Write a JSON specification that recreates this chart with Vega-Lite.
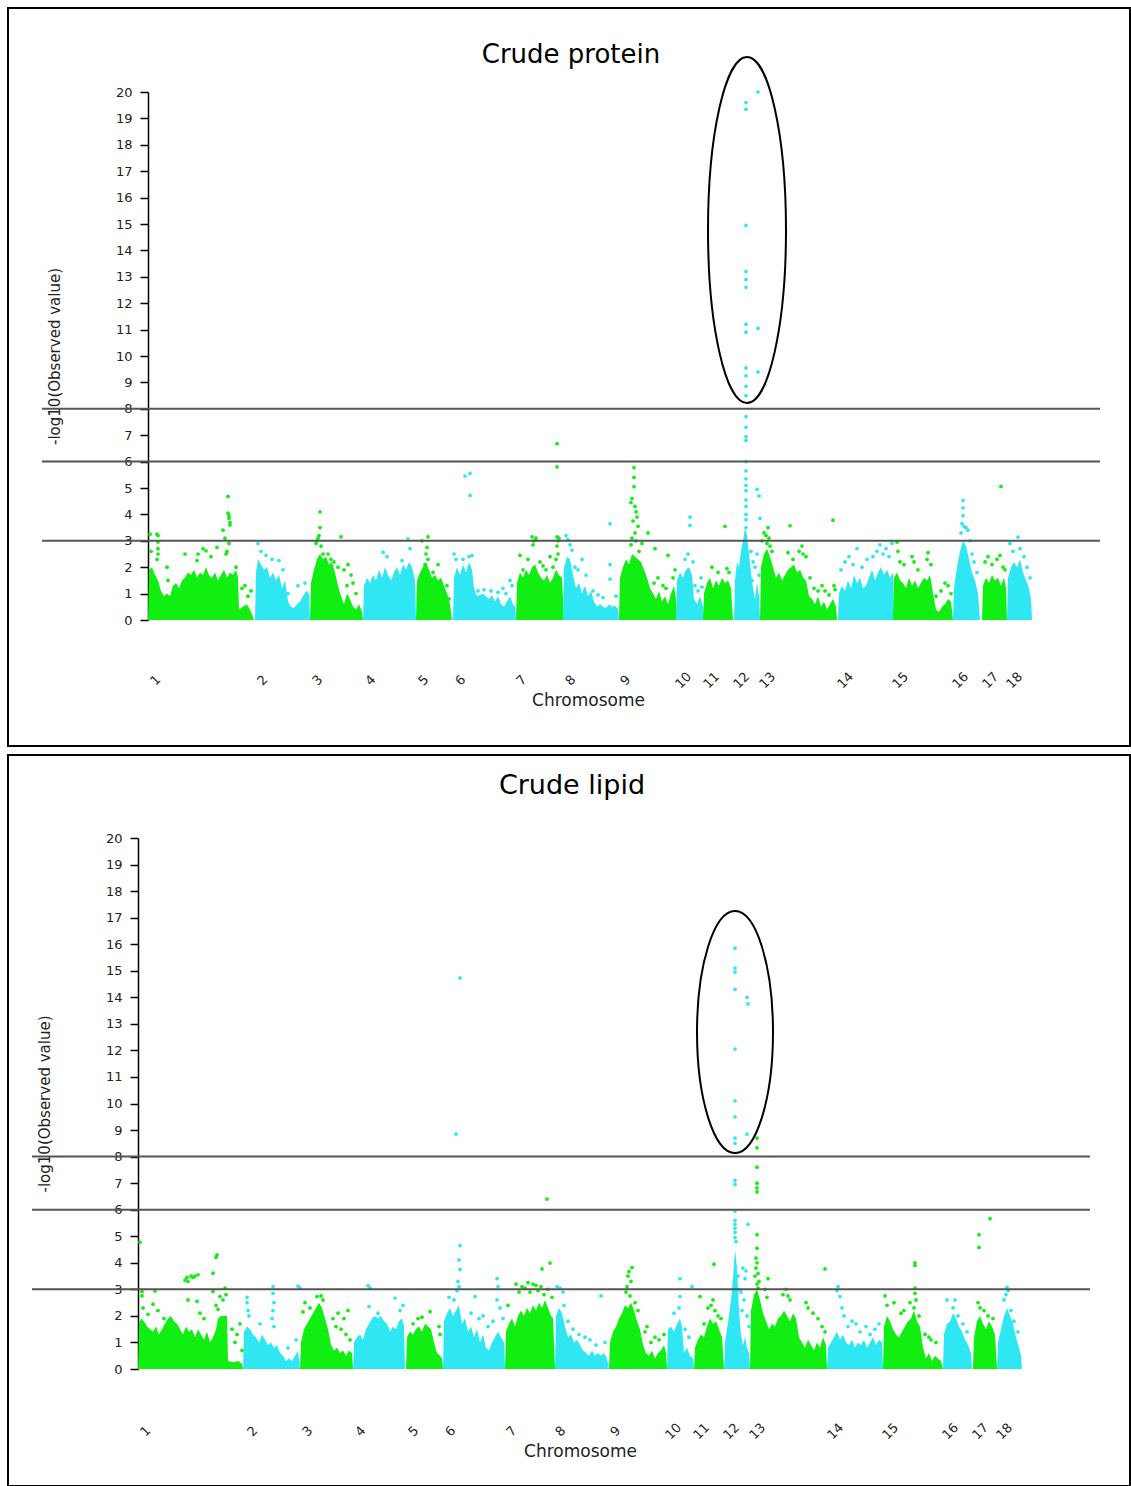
{
"$schema": "https://vega.github.io/schema/vega-lite/v6.json",
"padding": {"left": 7, "top": 7, "right": 0, "bottom": 0},
"background": "white",
"spacing": 6,
"config": {"view": {"stroke": null}, "font": "DejaVu Sans", "axis": {"grid": false}},
"datasets": {
"topBulk": [
{"c":1,"x":0,"y":0},{"c":1,"x":1,"y":1.9},{"c":1,"x":4,"y":2.0},{"c":1,"x":7,"y":1.7},{"c":1,"x":10,"y":1.5},{"c":1,"x":13,"y":1.1},{"c":1,"x":16,"y":0.9},{"c":1,"x":19,"y":1.0},{"c":1,"x":22,"y":0.9},{"c":1,"x":25,"y":1.3},{"c":1,"x":28,"y":1.4},{"c":1,"x":31,"y":1.2},{"c":1,"x":34,"y":1.5},{"c":1,"x":37,"y":1.6},{"c":1,"x":40,"y":1.8},{"c":1,"x":43,"y":1.7},{"c":1,"x":46,"y":1.9},{"c":1,"x":49,"y":1.6},{"c":1,"x":52,"y":1.8},{"c":1,"x":55,"y":1.7},{"c":1,"x":58,"y":2.0},{"c":1,"x":61,"y":1.7},{"c":1,"x":64,"y":1.6},{"c":1,"x":67,"y":1.8},{"c":1,"x":70,"y":1.5},{"c":1,"x":73,"y":1.7},{"c":1,"x":76,"y":1.9},{"c":1,"x":79,"y":1.6},{"c":1,"x":82,"y":1.8},{"c":1,"x":85,"y":1.7},{"c":1,"x":88,"y":1.9},{"c":1,"x":90,"y":1.6},{"c":1,"x":91,"y":0.4},{"c":1,"x":95,"y":0.5},{"c":1,"x":99,"y":0.6},{"c":1,"x":103,"y":0.3},{"c":1,"x":106,"y":0},
{"c":2,"x":107,"y":0},{"c":2,"x":108,"y":1.8},{"c":2,"x":110,"y":2.3},{"c":2,"x":113,"y":2.1},{"c":2,"x":116,"y":1.9},{"c":2,"x":119,"y":2.0},{"c":2,"x":122,"y":1.6},{"c":2,"x":125,"y":1.8},{"c":2,"x":128,"y":1.5},{"c":2,"x":131,"y":1.7},{"c":2,"x":134,"y":1.2},{"c":2,"x":137,"y":1.5},{"c":2,"x":140,"y":0.7},{"c":2,"x":143,"y":0.5},{"c":2,"x":146,"y":0.45},{"c":2,"x":149,"y":0.6},{"c":2,"x":152,"y":0.7},{"c":2,"x":155,"y":0.9},{"c":2,"x":158,"y":1.1},{"c":2,"x":161,"y":1.0},{"c":2,"x":162,"y":0},
{"c":3,"x":162,"y":0},{"c":3,"x":163,"y":1.4},{"c":3,"x":166,"y":1.9},{"c":3,"x":169,"y":2.3},{"c":3,"x":172,"y":2.5},{"c":3,"x":175,"y":2.3},{"c":3,"x":178,"y":2.4},{"c":3,"x":181,"y":2.1},{"c":3,"x":184,"y":2.2},{"c":3,"x":187,"y":1.8},{"c":3,"x":190,"y":1.3},{"c":3,"x":193,"y":0.9},{"c":3,"x":196,"y":0.6},{"c":3,"x":199,"y":1.0},{"c":3,"x":202,"y":0.8},{"c":3,"x":205,"y":0.5},{"c":3,"x":208,"y":0.4},{"c":3,"x":211,"y":0.6},{"c":3,"x":214,"y":0.3},{"c":3,"x":215,"y":0},
{"c":4,"x":215,"y":0},{"c":4,"x":216,"y":1.3},{"c":4,"x":219,"y":1.6},{"c":4,"x":222,"y":1.4},{"c":4,"x":225,"y":1.7},{"c":4,"x":228,"y":1.5},{"c":4,"x":231,"y":1.9},{"c":4,"x":234,"y":1.6},{"c":4,"x":237,"y":2.0},{"c":4,"x":240,"y":1.7},{"c":4,"x":243,"y":1.5},{"c":4,"x":246,"y":1.8},{"c":4,"x":249,"y":2.0},{"c":4,"x":252,"y":1.7},{"c":4,"x":255,"y":2.1},{"c":4,"x":258,"y":1.9},{"c":4,"x":261,"y":2.2},{"c":4,"x":264,"y":2.0},{"c":4,"x":267,"y":1.5},{"c":4,"x":268,"y":0},
{"c":5,"x":268,"y":0},{"c":5,"x":269,"y":1.5},{"c":5,"x":272,"y":1.8},{"c":5,"x":275,"y":2.0},{"c":5,"x":278,"y":2.2},{"c":5,"x":281,"y":1.9},{"c":5,"x":284,"y":1.6},{"c":5,"x":287,"y":1.7},{"c":5,"x":290,"y":1.5},{"c":5,"x":293,"y":1.6},{"c":5,"x":296,"y":1.3},{"c":5,"x":299,"y":1.0},{"c":5,"x":302,"y":0.6},{"c":5,"x":304,"y":0},
{"c":6,"x":305,"y":0},{"c":6,"x":306,"y":1.6},{"c":6,"x":309,"y":2.0},{"c":6,"x":312,"y":1.7},{"c":6,"x":315,"y":2.1},{"c":6,"x":318,"y":1.8},{"c":6,"x":321,"y":2.2},{"c":6,"x":324,"y":1.9},{"c":6,"x":326,"y":1.2},{"c":6,"x":329,"y":0.9},{"c":6,"x":332,"y":0.95},{"c":6,"x":335,"y":1.0},{"c":6,"x":338,"y":0.9},{"c":6,"x":341,"y":0.8},{"c":6,"x":344,"y":0.95},{"c":6,"x":347,"y":0.7},{"c":6,"x":350,"y":0.9},{"c":6,"x":353,"y":0.6},{"c":6,"x":356,"y":0.5},{"c":6,"x":359,"y":0.7},{"c":6,"x":362,"y":0.9},{"c":6,"x":365,"y":0.6},{"c":6,"x":367,"y":0.5},{"c":6,"x":368,"y":0},
{"c":7,"x":368,"y":0},{"c":7,"x":369,"y":1.4},{"c":7,"x":372,"y":1.8},{"c":7,"x":375,"y":1.6},{"c":7,"x":378,"y":1.9},{"c":7,"x":381,"y":1.7},{"c":7,"x":384,"y":2.0},{"c":7,"x":387,"y":2.1},{"c":7,"x":390,"y":1.8},{"c":7,"x":393,"y":1.6},{"c":7,"x":396,"y":1.5},{"c":7,"x":399,"y":1.7},{"c":7,"x":402,"y":1.4},{"c":7,"x":405,"y":1.6},{"c":7,"x":408,"y":1.9},{"c":7,"x":411,"y":1.7},{"c":7,"x":414,"y":1.6},{"c":7,"x":416,"y":0},
{"c":8,"x":415,"y":0},{"c":8,"x":416,"y":2.0},{"c":8,"x":419,"y":2.4},{"c":8,"x":422,"y":2.3},{"c":8,"x":425,"y":1.7},{"c":8,"x":428,"y":1.2},{"c":8,"x":431,"y":1.4},{"c":8,"x":434,"y":1.0},{"c":8,"x":437,"y":1.3},{"c":8,"x":440,"y":0.9},{"c":8,"x":443,"y":1.1},{"c":8,"x":446,"y":0.7},{"c":8,"x":449,"y":0.5},{"c":8,"x":452,"y":0.6},{"c":8,"x":455,"y":0.5},{"c":8,"x":458,"y":0.45},{"c":8,"x":461,"y":0.6},{"c":8,"x":464,"y":0.5},{"c":8,"x":467,"y":0.55},{"c":8,"x":470,"y":0.4},{"c":8,"x":471,"y":0},
{"c":9,"x":471,"y":0},{"c":9,"x":472,"y":1.6},{"c":9,"x":475,"y":2.0},{"c":9,"x":478,"y":2.3},{"c":9,"x":481,"y":2.1},{"c":9,"x":484,"y":2.5},{"c":9,"x":487,"y":2.4},{"c":9,"x":490,"y":2.3},{"c":9,"x":493,"y":2.2},{"c":9,"x":496,"y":1.9},{"c":9,"x":499,"y":1.6},{"c":9,"x":502,"y":1.2},{"c":9,"x":505,"y":1.0},{"c":9,"x":508,"y":0.8},{"c":9,"x":511,"y":1.1},{"c":9,"x":514,"y":0.7},{"c":9,"x":517,"y":0.9},{"c":9,"x":520,"y":0.6},{"c":9,"x":523,"y":1.0},{"c":9,"x":526,"y":1.3},{"c":9,"x":528,"y":0.8},{"c":9,"x":529,"y":0},
{"c":10,"x":528,"y":0},{"c":10,"x":529,"y":1.5},{"c":10,"x":532,"y":1.8},{"c":10,"x":535,"y":1.6},{"c":10,"x":538,"y":1.9},{"c":10,"x":541,"y":2.0},{"c":10,"x":544,"y":1.7},{"c":10,"x":546,"y":0.8},{"c":10,"x":549,"y":0.6},{"c":10,"x":552,"y":0.9},{"c":10,"x":555,"y":0.5},{"c":10,"x":556,"y":0},
{"c":11,"x":555,"y":0},{"c":11,"x":556,"y":1.0},{"c":11,"x":559,"y":1.4},{"c":11,"x":562,"y":1.6},{"c":11,"x":565,"y":1.2},{"c":11,"x":568,"y":1.5},{"c":11,"x":571,"y":1.3},{"c":11,"x":574,"y":1.6},{"c":11,"x":577,"y":1.4},{"c":11,"x":580,"y":1.5},{"c":11,"x":583,"y":1.2},{"c":11,"x":585,"y":0},
{"c":12,"x":586,"y":0},{"c":12,"x":587,"y":1.5},{"c":12,"x":589,"y":2.2},{"c":12,"x":591,"y":2.0},{"c":12,"x":593,"y":2.6},{"c":12,"x":595,"y":3.0},{"c":12,"x":597,"y":3.5},{"c":12,"x":599,"y":3.2},{"c":12,"x":601,"y":2.5},{"c":12,"x":603,"y":1.8},{"c":12,"x":605,"y":1.2},{"c":12,"x":607,"y":0.8},{"c":12,"x":609,"y":1.4},{"c":12,"x":611,"y":0.9},{"c":12,"x":612,"y":0},
{"c":13,"x":612,"y":0},{"c":13,"x":613,"y":2.0},{"c":13,"x":616,"y":2.5},{"c":13,"x":619,"y":2.7},{"c":13,"x":622,"y":2.4},{"c":13,"x":625,"y":2.0},{"c":13,"x":628,"y":1.6},{"c":13,"x":631,"y":1.8},{"c":13,"x":634,"y":1.5},{"c":13,"x":637,"y":1.7},{"c":13,"x":640,"y":1.9},{"c":13,"x":643,"y":2.0},{"c":13,"x":646,"y":2.1},{"c":13,"x":649,"y":1.8},{"c":13,"x":652,"y":1.9},{"c":13,"x":655,"y":1.6},{"c":13,"x":658,"y":1.5},{"c":13,"x":661,"y":0.9},{"c":13,"x":664,"y":0.8},{"c":13,"x":667,"y":0.6},{"c":13,"x":670,"y":0.9},{"c":13,"x":673,"y":0.5},{"c":13,"x":676,"y":0.7},{"c":13,"x":679,"y":0.4},{"c":13,"x":682,"y":0.6},{"c":13,"x":685,"y":0.8},{"c":13,"x":688,"y":0.5},{"c":13,"x":689,"y":0},
{"c":14,"x":690,"y":0},{"c":14,"x":691,"y":1.0},{"c":14,"x":694,"y":1.3},{"c":14,"x":697,"y":1.1},{"c":14,"x":700,"y":1.5},{"c":14,"x":703,"y":1.2},{"c":14,"x":706,"y":1.7},{"c":14,"x":709,"y":1.4},{"c":14,"x":712,"y":1.6},{"c":14,"x":715,"y":1.2},{"c":14,"x":718,"y":1.3},{"c":14,"x":721,"y":1.6},{"c":14,"x":724,"y":1.9},{"c":14,"x":727,"y":1.5},{"c":14,"x":730,"y":1.8},{"c":14,"x":733,"y":2.0},{"c":14,"x":736,"y":1.7},{"c":14,"x":739,"y":1.9},{"c":14,"x":742,"y":1.6},{"c":14,"x":745,"y":1.8},{"c":14,"x":746,"y":0},
{"c":15,"x":745,"y":0},{"c":15,"x":746,"y":1.6},{"c":15,"x":749,"y":1.8},{"c":15,"x":752,"y":1.5},{"c":15,"x":755,"y":1.4},{"c":15,"x":758,"y":1.2},{"c":15,"x":761,"y":1.6},{"c":15,"x":764,"y":1.3},{"c":15,"x":767,"y":1.5},{"c":15,"x":770,"y":1.2},{"c":15,"x":773,"y":1.4},{"c":15,"x":776,"y":1.6},{"c":15,"x":779,"y":1.5},{"c":15,"x":782,"y":1.7},{"c":15,"x":785,"y":1.0},{"c":15,"x":788,"y":0.4},{"c":15,"x":791,"y":0.3},{"c":15,"x":794,"y":0.5},{"c":15,"x":797,"y":0.6},{"c":15,"x":800,"y":0.8},{"c":15,"x":803,"y":0.7},{"c":15,"x":805,"y":0},
{"c":16,"x":805,"y":0},{"c":16,"x":806,"y":1.2},{"c":16,"x":809,"y":2.0},{"c":16,"x":812,"y":2.6},{"c":16,"x":815,"y":3.0},{"c":16,"x":818,"y":2.8},{"c":16,"x":821,"y":2.3},{"c":16,"x":824,"y":1.8},{"c":16,"x":827,"y":1.5},{"c":16,"x":830,"y":1.0},{"c":16,"x":832,"y":0},
{"c":17,"x":834,"y":0},{"c":17,"x":835,"y":1.3},{"c":17,"x":838,"y":1.6},{"c":17,"x":841,"y":1.4},{"c":17,"x":844,"y":1.7},{"c":17,"x":847,"y":1.5},{"c":17,"x":850,"y":1.6},{"c":17,"x":853,"y":1.3},{"c":17,"x":856,"y":1.6},{"c":17,"x":858,"y":1.2},{"c":17,"x":859,"y":0},
{"c":18,"x":859,"y":0},{"c":18,"x":860,"y":1.6},{"c":18,"x":863,"y":2.0},{"c":18,"x":866,"y":2.2},{"c":18,"x":869,"y":2.0},{"c":18,"x":872,"y":2.3},{"c":18,"x":875,"y":1.8},{"c":18,"x":878,"y":1.5},{"c":18,"x":881,"y":1.2},{"c":18,"x":883,"y":0.8},{"c":18,"x":884,"y":0}
],
"topPts": [
{"c":1,"x":2,"y":3.25},{"c":1,"x":9,"y":3.25},{"c":1,"x":10,"y":3.2},{"c":1,"x":10,"y":2.95},{"c":1,"x":10,"y":2.7},{"c":1,"x":10,"y":2.5},{"c":1,"x":9,"y":2.3},{"c":1,"x":3,"y":2.6},{"c":1,"x":19,"y":2.0},{"c":1,"x":20,"y":1.5},{"c":1,"x":37,"y":2.5},{"c":1,"x":49,"y":2.25},{"c":1,"x":50,"y":2.5},{"c":1,"x":55,"y":2.7},{"c":1,"x":58,"y":2.62},{"c":1,"x":63,"y":2.4},{"c":1,"x":69,"y":2.75},{"c":1,"x":75,"y":3.4},{"c":1,"x":77,"y":3.1},{"c":1,"x":80,"y":4.68},{"c":1,"x":80,"y":4.05},{"c":1,"x":81,"y":3.95},{"c":1,"x":81,"y":3.85},{"c":1,"x":82,"y":3.7},{"c":1,"x":82,"y":3.6},{"c":1,"x":81,"y":2.9},{"c":1,"x":79,"y":2.6},{"c":1,"x":78,"y":2.5},{"c":1,"x":88,"y":2.0},{"c":1,"x":94,"y":1.2},{"c":1,"x":97,"y":1.3},{"c":1,"x":100,"y":0.9},{"c":1,"x":103,"y":1.1},
{"c":2,"x":110,"y":2.9},{"c":2,"x":113,"y":2.6},{"c":2,"x":118,"y":2.45},{"c":2,"x":124,"y":2.3},{"c":2,"x":131,"y":2.25},{"c":2,"x":135,"y":1.9},{"c":2,"x":140,"y":1.0},{"c":2,"x":150,"y":1.3},{"c":2,"x":157,"y":1.4},
{"c":3,"x":172,"y":4.1},{"c":3,"x":172,"y":3.5},{"c":3,"x":171,"y":3.2},{"c":3,"x":170,"y":3.1},{"c":3,"x":169,"y":3.0},{"c":3,"x":168,"y":2.9},{"c":3,"x":173,"y":2.8},{"c":3,"x":175,"y":2.5},{"c":3,"x":180,"y":2.5},{"c":3,"x":183,"y":2.3},{"c":3,"x":186,"y":2.2},{"c":3,"x":193,"y":3.15},{"c":3,"x":190,"y":2.0},{"c":3,"x":196,"y":1.9},{"c":3,"x":200,"y":2.1},{"c":3,"x":203,"y":1.7},{"c":3,"x":205,"y":1.4},{"c":3,"x":199,"y":1.3},{"c":3,"x":208,"y":1.0},
{"c":4,"x":235,"y":2.57},{"c":4,"x":239,"y":2.4},{"c":4,"x":254,"y":2.25},{"c":4,"x":260,"y":3.07},{"c":4,"x":262,"y":2.7},
{"c":5,"x":280,"y":3.15},{"c":5,"x":274,"y":3.0},{"c":5,"x":279,"y":2.75},{"c":5,"x":278,"y":2.5},{"c":5,"x":280,"y":2.3},{"c":5,"x":277,"y":2.1},{"c":5,"x":290,"y":2.1},{"c":5,"x":285,"y":1.8},{"c":5,"x":299,"y":1.3},{"c":5,"x":301,"y":0.8},
{"c":6,"x":317,"y":5.45},{"c":6,"x":322,"y":5.55},{"c":6,"x":322,"y":4.72},{"c":6,"x":306,"y":2.5},{"c":6,"x":308,"y":2.3},{"c":6,"x":315,"y":2.3},{"c":6,"x":321,"y":2.4},{"c":6,"x":324,"y":2.45},{"c":6,"x":330,"y":1.1},{"c":6,"x":336,"y":1.15},{"c":6,"x":343,"y":1.1},{"c":6,"x":350,"y":1.05},{"c":6,"x":358,"y":1.0},{"c":6,"x":364,"y":1.3},{"c":6,"x":362,"y":1.5},{"c":6,"x":355,"y":1.2},
{"c":7,"x":409,"y":6.68},{"c":7,"x":409,"y":5.8},{"c":7,"x":409,"y":3.15},{"c":7,"x":411,"y":3.1},{"c":7,"x":410,"y":3.0},{"c":7,"x":409,"y":2.8},{"c":7,"x":410,"y":2.5},{"c":7,"x":408,"y":2.3},{"c":7,"x":405,"y":2.0},{"c":7,"x":384,"y":3.15},{"c":7,"x":386,"y":3.0},{"c":7,"x":385,"y":2.85},{"c":7,"x":388,"y":3.1},{"c":7,"x":372,"y":2.45},{"c":7,"x":380,"y":2.3},{"c":7,"x":392,"y":2.2},{"c":7,"x":395,"y":2.05},{"c":7,"x":398,"y":1.9},{"c":7,"x":402,"y":2.4},{"c":7,"x":375,"y":1.9},
{"c":8,"x":418,"y":3.2},{"c":8,"x":420,"y":3.05},{"c":8,"x":422,"y":2.85},{"c":8,"x":424,"y":2.65},{"c":8,"x":427,"y":2.0},{"c":8,"x":430,"y":1.9},{"c":8,"x":434,"y":2.3},{"c":8,"x":438,"y":1.7},{"c":8,"x":445,"y":1.1},{"c":8,"x":450,"y":0.95},{"c":8,"x":455,"y":0.85},{"c":8,"x":462,"y":3.65},{"c":8,"x":462,"y":2.1},{"c":8,"x":462,"y":1.55},{"c":8,"x":468,"y":0.9},
{"c":9,"x":486,"y":5.77},{"c":9,"x":486,"y":5.4},{"c":9,"x":486,"y":5.05},{"c":9,"x":484,"y":4.6},{"c":9,"x":483,"y":4.45},{"c":9,"x":487,"y":4.3},{"c":9,"x":488,"y":4.1},{"c":9,"x":489,"y":3.9},{"c":9,"x":485,"y":3.75},{"c":9,"x":490,"y":3.55},{"c":9,"x":487,"y":3.3},{"c":9,"x":484,"y":3.1},{"c":9,"x":488,"y":3.0},{"c":9,"x":483,"y":2.85},{"c":9,"x":491,"y":2.6},{"c":9,"x":494,"y":2.9},{"c":9,"x":500,"y":3.3},{"c":9,"x":507,"y":2.7},{"c":9,"x":520,"y":2.45},{"c":9,"x":506,"y":1.4},{"c":9,"x":510,"y":1.6},{"c":9,"x":515,"y":1.3},{"c":9,"x":518,"y":1.2},{"c":9,"x":525,"y":1.6},{"c":9,"x":527,"y":1.9},
{"c":10,"x":542,"y":3.9},{"c":10,"x":542,"y":3.58},{"c":10,"x":537,"y":2.3},{"c":10,"x":540,"y":2.5},{"c":10,"x":545,"y":2.2},{"c":10,"x":547,"y":1.3},{"c":10,"x":550,"y":1.1},{"c":10,"x":553,"y":1.6},{"c":10,"x":554,"y":1.25},
{"c":11,"x":564,"y":2.0},{"c":11,"x":577,"y":3.55},{"c":11,"x":579,"y":1.95},{"c":11,"x":581,"y":1.8},{"c":11,"x":570,"y":1.8},
{"c":12,"x":598,"y":19.6},{"c":12,"x":598,"y":19.35},{"c":12,"x":598,"y":14.95},{"c":12,"x":598,"y":13.2},{"c":12,"x":598,"y":12.9},{"c":12,"x":598,"y":12.6},{"c":12,"x":598,"y":11.2},{"c":12,"x":598,"y":10.9},{"c":12,"x":598,"y":9.55},{"c":12,"x":598,"y":9.25},{"c":12,"x":598,"y":8.85},{"c":12,"x":598,"y":8.5},{"c":12,"x":598,"y":7.7},{"c":12,"x":598,"y":7.3},{"c":12,"x":598,"y":6.95},{"c":12,"x":598,"y":6.8},{"c":12,"x":598,"y":6.0},{"c":12,"x":598,"y":5.65},{"c":12,"x":598,"y":5.35},{"c":12,"x":598,"y":5.1},{"c":12,"x":598,"y":4.9},{"c":12,"x":598,"y":4.55},{"c":12,"x":598,"y":4.3},{"c":12,"x":598,"y":4.0},{"c":12,"x":598,"y":3.8},{"c":12,"x":598,"y":3.5},{"c":12,"x":610,"y":20.0},{"c":12,"x":610,"y":11.05},{"c":12,"x":610,"y":9.4},{"c":12,"x":609,"y":4.95},{"c":12,"x":611,"y":4.7},{"c":12,"x":612,"y":3.85},{"c":12,"x":603,"y":2.6},{"c":12,"x":605,"y":2.2},{"c":12,"x":607,"y":2.0},{"c":12,"x":609,"y":2.5},{"c":12,"x":611,"y":1.7},{"c":12,"x":604,"y":1.5},
{"c":13,"x":614,"y":3.0},{"c":13,"x":616,"y":3.3},{"c":13,"x":618,"y":3.2},{"c":13,"x":620,"y":3.5},{"c":13,"x":621,"y":3.1},{"c":13,"x":619,"y":2.9},{"c":13,"x":622,"y":2.8},{"c":13,"x":624,"y":2.6},{"c":13,"x":642,"y":3.57},{"c":13,"x":640,"y":2.55},{"c":13,"x":645,"y":2.3},{"c":13,"x":651,"y":2.6},{"c":13,"x":654,"y":2.8},{"c":13,"x":655,"y":2.5},{"c":13,"x":658,"y":2.4},{"c":13,"x":662,"y":1.6},{"c":13,"x":666,"y":1.2},{"c":13,"x":670,"y":1.1},{"c":13,"x":674,"y":1.3},{"c":13,"x":677,"y":1.1},{"c":13,"x":681,"y":0.95},{"c":13,"x":687,"y":1.15},{"c":13,"x":686,"y":1.3},{"c":13,"x":685,"y":3.78},
{"c":14,"x":693,"y":1.9},{"c":14,"x":697,"y":2.2},{"c":14,"x":701,"y":2.4},{"c":14,"x":705,"y":2.1},{"c":14,"x":709,"y":2.7},{"c":14,"x":714,"y":2.0},{"c":14,"x":719,"y":2.3},{"c":14,"x":725,"y":2.4},{"c":14,"x":729,"y":2.6},{"c":14,"x":732,"y":2.85},{"c":14,"x":735,"y":2.5},{"c":14,"x":738,"y":2.7},{"c":14,"x":741,"y":2.4},{"c":14,"x":744,"y":2.9},
{"c":15,"x":749,"y":2.95},{"c":15,"x":750,"y":2.6},{"c":15,"x":752,"y":2.2},{"c":15,"x":756,"y":2.1},{"c":15,"x":764,"y":2.4},{"c":15,"x":766,"y":2.2},{"c":15,"x":770,"y":1.9},{"c":15,"x":779,"y":2.3},{"c":15,"x":780,"y":2.55},{"c":15,"x":783,"y":2.1},{"c":15,"x":788,"y":0.9},{"c":15,"x":793,"y":1.1},{"c":15,"x":797,"y":1.4},{"c":15,"x":800,"y":1.3},{"c":15,"x":803,"y":1.0},
{"c":16,"x":815,"y":4.53},{"c":16,"x":815,"y":4.25},{"c":16,"x":815,"y":3.95},{"c":16,"x":814,"y":3.65},{"c":16,"x":816,"y":3.55},{"c":16,"x":818,"y":3.5},{"c":16,"x":820,"y":3.4},{"c":16,"x":813,"y":3.3},{"c":16,"x":822,"y":3.0},{"c":16,"x":824,"y":2.5},{"c":16,"x":826,"y":2.2},{"c":16,"x":829,"y":1.8},
{"c":17,"x":837,"y":2.2},{"c":17,"x":840,"y":2.4},{"c":17,"x":844,"y":2.1},{"c":17,"x":849,"y":2.3},{"c":17,"x":852,"y":2.45},{"c":17,"x":853,"y":5.06},{"c":17,"x":855,"y":2.0},{"c":17,"x":857,"y":1.9},
{"c":18,"x":862,"y":2.9},{"c":18,"x":865,"y":2.6},{"c":18,"x":870,"y":3.14},{"c":18,"x":872,"y":2.7},{"c":18,"x":876,"y":2.4},{"c":18,"x":879,"y":2.0},{"c":18,"x":882,"y":1.6}
],
"botBulk": [
{"c":1,"x":0,"y":0},{"c":1,"x":1,"y":1.7},{"c":1,"x":3,"y":1.9},{"c":1,"x":6,"y":1.8},{"c":1,"x":9,"y":1.6},{"c":1,"x":12,"y":1.5},{"c":1,"x":15,"y":1.4},{"c":1,"x":18,"y":1.6},{"c":1,"x":21,"y":1.3},{"c":1,"x":24,"y":1.5},{"c":1,"x":27,"y":1.7},{"c":1,"x":30,"y":1.9},{"c":1,"x":33,"y":2.0},{"c":1,"x":36,"y":1.8},{"c":1,"x":39,"y":1.7},{"c":1,"x":42,"y":1.5},{"c":1,"x":45,"y":1.3},{"c":1,"x":48,"y":1.6},{"c":1,"x":51,"y":1.4},{"c":1,"x":54,"y":1.5},{"c":1,"x":57,"y":1.2},{"c":1,"x":60,"y":1.5},{"c":1,"x":63,"y":1.3},{"c":1,"x":66,"y":1.1},{"c":1,"x":69,"y":1.4},{"c":1,"x":72,"y":1.0},{"c":1,"x":75,"y":1.2},{"c":1,"x":78,"y":1.5},{"c":1,"x":80,"y":1.9},{"c":1,"x":83,"y":2.0},{"c":1,"x":86,"y":2.0},{"c":1,"x":89,"y":2.0},{"c":1,"x":90,"y":0.3},{"c":1,"x":95,"y":0.25},{"c":1,"x":100,"y":0.3},{"c":1,"x":104,"y":0.2},{"c":1,"x":105,"y":0},
{"c":2,"x":105,"y":0},{"c":2,"x":106,"y":1.4},{"c":2,"x":109,"y":1.6},{"c":2,"x":112,"y":1.5},{"c":2,"x":115,"y":1.3},{"c":2,"x":118,"y":1.2},{"c":2,"x":121,"y":1.0},{"c":2,"x":124,"y":1.3},{"c":2,"x":127,"y":1.1},{"c":2,"x":130,"y":0.9},{"c":2,"x":133,"y":1.0},{"c":2,"x":136,"y":0.8},{"c":2,"x":139,"y":0.9},{"c":2,"x":142,"y":0.6},{"c":2,"x":145,"y":0.5},{"c":2,"x":148,"y":0.3},{"c":2,"x":151,"y":0.4},{"c":2,"x":154,"y":0.3},{"c":2,"x":157,"y":0.5},{"c":2,"x":160,"y":0.7},{"c":2,"x":162,"y":0},
{"c":3,"x":162,"y":0},{"c":3,"x":163,"y":1.0},{"c":3,"x":166,"y":1.5},{"c":3,"x":169,"y":1.7},{"c":3,"x":172,"y":1.9},{"c":3,"x":175,"y":2.1},{"c":3,"x":178,"y":2.3},{"c":3,"x":181,"y":2.5},{"c":3,"x":184,"y":2.3},{"c":3,"x":187,"y":1.9},{"c":3,"x":190,"y":1.5},{"c":3,"x":193,"y":0.9},{"c":3,"x":196,"y":0.7},{"c":3,"x":199,"y":0.8},{"c":3,"x":202,"y":0.6},{"c":3,"x":205,"y":0.7},{"c":3,"x":208,"y":0.5},{"c":3,"x":211,"y":0.7},{"c":3,"x":214,"y":0.6},{"c":3,"x":215,"y":0},
{"c":4,"x":215,"y":0},{"c":4,"x":216,"y":1.0},{"c":4,"x":219,"y":1.2},{"c":4,"x":222,"y":1.3},{"c":4,"x":225,"y":1.1},{"c":4,"x":228,"y":1.5},{"c":4,"x":231,"y":1.7},{"c":4,"x":234,"y":1.9},{"c":4,"x":237,"y":2.0},{"c":4,"x":240,"y":1.9},{"c":4,"x":243,"y":2.0},{"c":4,"x":246,"y":1.8},{"c":4,"x":249,"y":1.7},{"c":4,"x":252,"y":1.4},{"c":4,"x":255,"y":1.6},{"c":4,"x":258,"y":1.5},{"c":4,"x":261,"y":1.8},{"c":4,"x":264,"y":1.9},{"c":4,"x":266,"y":1.6},{"c":4,"x":267,"y":0},
{"c":5,"x":268,"y":0},{"c":5,"x":269,"y":1.2},{"c":5,"x":272,"y":1.4},{"c":5,"x":275,"y":1.3},{"c":5,"x":278,"y":1.5},{"c":5,"x":281,"y":1.6},{"c":5,"x":284,"y":1.4},{"c":5,"x":287,"y":1.7},{"c":5,"x":290,"y":1.6},{"c":5,"x":293,"y":1.5},{"c":5,"x":296,"y":1.0},{"c":5,"x":299,"y":0.6},{"c":5,"x":302,"y":0.5},{"c":5,"x":304,"y":0.4},{"c":5,"x":305,"y":0},
{"c":6,"x":305,"y":0},{"c":6,"x":306,"y":1.8},{"c":6,"x":309,"y":2.1},{"c":6,"x":312,"y":2.3},{"c":6,"x":315,"y":2.0},{"c":6,"x":318,"y":2.2},{"c":6,"x":321,"y":2.4},{"c":6,"x":324,"y":1.7},{"c":6,"x":327,"y":1.9},{"c":6,"x":330,"y":1.4},{"c":6,"x":333,"y":1.6},{"c":6,"x":336,"y":1.2},{"c":6,"x":339,"y":1.5},{"c":6,"x":342,"y":1.0},{"c":6,"x":345,"y":1.3},{"c":6,"x":348,"y":0.8},{"c":6,"x":351,"y":0.7},{"c":6,"x":354,"y":1.0},{"c":6,"x":357,"y":1.2},{"c":6,"x":360,"y":1.4},{"c":6,"x":363,"y":1.2},{"c":6,"x":366,"y":1.0},{"c":6,"x":367,"y":0},
{"c":7,"x":367,"y":0},{"c":7,"x":368,"y":1.4},{"c":7,"x":371,"y":1.7},{"c":7,"x":374,"y":1.9},{"c":7,"x":377,"y":1.6},{"c":7,"x":380,"y":2.0},{"c":7,"x":383,"y":2.2},{"c":7,"x":386,"y":2.0},{"c":7,"x":389,"y":2.3},{"c":7,"x":392,"y":2.1},{"c":7,"x":395,"y":2.4},{"c":7,"x":398,"y":2.2},{"c":7,"x":401,"y":2.5},{"c":7,"x":404,"y":2.3},{"c":7,"x":407,"y":2.6},{"c":7,"x":410,"y":2.3},{"c":7,"x":413,"y":2.0},{"c":7,"x":415,"y":1.9},{"c":7,"x":417,"y":0},
{"c":8,"x":417,"y":0},{"c":8,"x":418,"y":2.0},{"c":8,"x":421,"y":2.3},{"c":8,"x":424,"y":2.1},{"c":8,"x":427,"y":1.6},{"c":8,"x":430,"y":1.2},{"c":8,"x":433,"y":1.3},{"c":8,"x":436,"y":1.0},{"c":8,"x":439,"y":1.1},{"c":8,"x":442,"y":0.9},{"c":8,"x":445,"y":0.7},{"c":8,"x":448,"y":0.6},{"c":8,"x":451,"y":0.5},{"c":8,"x":454,"y":0.7},{"c":8,"x":457,"y":0.5},{"c":8,"x":460,"y":0.6},{"c":8,"x":463,"y":0.5},{"c":8,"x":466,"y":0.6},{"c":8,"x":469,"y":0.4},{"c":8,"x":471,"y":0},
{"c":9,"x":471,"y":0},{"c":9,"x":472,"y":1.0},{"c":9,"x":475,"y":1.4},{"c":9,"x":478,"y":1.6},{"c":9,"x":481,"y":1.9},{"c":9,"x":484,"y":2.1},{"c":9,"x":487,"y":2.4},{"c":9,"x":490,"y":2.3},{"c":9,"x":493,"y":2.5},{"c":9,"x":496,"y":2.2},{"c":9,"x":499,"y":1.8},{"c":9,"x":502,"y":1.5},{"c":9,"x":505,"y":0.9},{"c":9,"x":508,"y":0.6},{"c":9,"x":511,"y":0.5},{"c":9,"x":514,"y":0.7},{"c":9,"x":517,"y":0.4},{"c":9,"x":520,"y":0.6},{"c":9,"x":523,"y":0.7},{"c":9,"x":526,"y":0.9},{"c":9,"x":528,"y":0.6},{"c":9,"x":529,"y":0},
{"c":10,"x":529,"y":0},{"c":10,"x":530,"y":1.5},{"c":10,"x":533,"y":1.6},{"c":10,"x":536,"y":1.4},{"c":10,"x":539,"y":1.7},{"c":10,"x":542,"y":1.9},{"c":10,"x":544,"y":1.6},{"c":10,"x":546,"y":0.6},{"c":10,"x":549,"y":0.8},{"c":10,"x":552,"y":0.5},{"c":10,"x":555,"y":0.4},{"c":10,"x":556,"y":0},
{"c":11,"x":556,"y":0},{"c":11,"x":557,"y":0.8},{"c":11,"x":560,"y":1.1},{"c":11,"x":563,"y":1.3},{"c":11,"x":566,"y":1.2},{"c":11,"x":569,"y":1.6},{"c":11,"x":572,"y":1.9},{"c":11,"x":575,"y":1.7},{"c":11,"x":578,"y":1.8},{"c":11,"x":581,"y":1.5},{"c":11,"x":584,"y":1.2},{"c":11,"x":586,"y":0},
{"c":12,"x":586,"y":0},{"c":12,"x":587,"y":1.0},{"c":12,"x":589,"y":1.5},{"c":12,"x":591,"y":2.0},{"c":12,"x":593,"y":2.6},{"c":12,"x":595,"y":3.4},{"c":12,"x":597,"y":4.5},{"c":12,"x":599,"y":3.8},{"c":12,"x":601,"y":2.2},{"c":12,"x":603,"y":1.3},{"c":12,"x":605,"y":0.9},{"c":12,"x":607,"y":1.2},{"c":12,"x":609,"y":0.8},{"c":12,"x":611,"y":0.6},{"c":12,"x":612,"y":0},
{"c":13,"x":612,"y":0},{"c":13,"x":613,"y":2.2},{"c":13,"x":616,"y":2.8},{"c":13,"x":619,"y":3.0},{"c":13,"x":622,"y":2.6},{"c":13,"x":625,"y":2.1},{"c":13,"x":628,"y":1.8},{"c":13,"x":631,"y":1.5},{"c":13,"x":634,"y":1.7},{"c":13,"x":637,"y":1.6},{"c":13,"x":640,"y":1.9},{"c":13,"x":643,"y":2.0},{"c":13,"x":646,"y":2.2},{"c":13,"x":649,"y":2.0},{"c":13,"x":652,"y":1.8},{"c":13,"x":655,"y":2.1},{"c":13,"x":658,"y":1.9},{"c":13,"x":661,"y":1.2},{"c":13,"x":664,"y":1.0},{"c":13,"x":667,"y":0.8},{"c":13,"x":670,"y":1.1},{"c":13,"x":673,"y":0.9},{"c":13,"x":676,"y":0.7},{"c":13,"x":679,"y":1.0},{"c":13,"x":682,"y":0.8},{"c":13,"x":685,"y":1.2},{"c":13,"x":688,"y":0.9},{"c":13,"x":689,"y":0},
{"c":14,"x":689,"y":0},{"c":14,"x":690,"y":0.8},{"c":14,"x":693,"y":1.0},{"c":14,"x":696,"y":1.2},{"c":14,"x":699,"y":1.4},{"c":14,"x":702,"y":1.1},{"c":14,"x":705,"y":1.3},{"c":14,"x":708,"y":1.0},{"c":14,"x":711,"y":0.9},{"c":14,"x":714,"y":1.1},{"c":14,"x":717,"y":0.8},{"c":14,"x":720,"y":1.0},{"c":14,"x":723,"y":0.9},{"c":14,"x":726,"y":1.1},{"c":14,"x":729,"y":0.8},{"c":14,"x":732,"y":1.0},{"c":14,"x":735,"y":1.2},{"c":14,"x":738,"y":0.9},{"c":14,"x":741,"y":1.1},{"c":14,"x":744,"y":1.0},{"c":14,"x":745,"y":0},
{"c":15,"x":745,"y":0},{"c":15,"x":746,"y":1.6},{"c":15,"x":749,"y":2.0},{"c":15,"x":752,"y":1.8},{"c":15,"x":755,"y":1.5},{"c":15,"x":758,"y":1.3},{"c":15,"x":761,"y":1.2},{"c":15,"x":764,"y":1.4},{"c":15,"x":767,"y":1.6},{"c":15,"x":770,"y":1.8},{"c":15,"x":773,"y":1.9},{"c":15,"x":776,"y":2.2},{"c":15,"x":779,"y":1.8},{"c":15,"x":782,"y":1.6},{"c":15,"x":785,"y":0.8},{"c":15,"x":788,"y":0.4},{"c":15,"x":791,"y":0.6},{"c":15,"x":794,"y":0.3},{"c":15,"x":797,"y":0.5},{"c":15,"x":800,"y":0.4},{"c":15,"x":803,"y":0.3},{"c":15,"x":805,"y":0},
{"c":16,"x":805,"y":0},{"c":16,"x":806,"y":1.3},{"c":16,"x":809,"y":1.7},{"c":16,"x":812,"y":1.8},{"c":16,"x":815,"y":2.1},{"c":16,"x":818,"y":1.9},{"c":16,"x":821,"y":1.6},{"c":16,"x":824,"y":1.4},{"c":16,"x":827,"y":1.1},{"c":16,"x":830,"y":0.9},{"c":16,"x":833,"y":0.6},{"c":16,"x":834,"y":0},
{"c":17,"x":835,"y":0},{"c":17,"x":836,"y":1.2},{"c":17,"x":839,"y":1.8},{"c":17,"x":842,"y":2.0},{"c":17,"x":845,"y":1.7},{"c":17,"x":848,"y":1.5},{"c":17,"x":851,"y":1.8},{"c":17,"x":854,"y":1.6},{"c":17,"x":857,"y":1.3},{"c":17,"x":859,"y":0},
{"c":18,"x":859,"y":0},{"c":18,"x":860,"y":1.0},{"c":18,"x":863,"y":1.5},{"c":18,"x":866,"y":2.0},{"c":18,"x":869,"y":2.3},{"c":18,"x":872,"y":2.0},{"c":18,"x":875,"y":1.7},{"c":18,"x":878,"y":1.2},{"c":18,"x":881,"y":0.8},{"c":18,"x":883,"y":0.5},{"c":18,"x":884,"y":0}
],
"botPts": [
{"c":1,"x":2,"y":4.77},{"c":1,"x":4,"y":2.92},{"c":1,"x":4,"y":2.75},{"c":1,"x":5,"y":2.3},{"c":1,"x":10,"y":2.06},{"c":1,"x":15,"y":2.44},{"c":1,"x":17,"y":2.94},{"c":1,"x":20,"y":2.2},{"c":1,"x":26,"y":1.9},{"c":1,"x":47,"y":3.35},{"c":1,"x":49,"y":3.45},{"c":1,"x":50,"y":3.3},{"c":1,"x":53,"y":3.5},{"c":1,"x":55,"y":3.45},{"c":1,"x":57,"y":3.5},{"c":1,"x":60,"y":3.55},{"c":1,"x":50,"y":2.6},{"c":1,"x":59,"y":2.55},{"c":1,"x":62,"y":2.1},{"c":1,"x":66,"y":1.9},{"c":1,"x":75,"y":3.61},{"c":1,"x":78,"y":4.2},{"c":1,"x":79,"y":4.3},{"c":1,"x":75,"y":2.92},{"c":1,"x":82,"y":2.73},{"c":1,"x":78,"y":2.4},{"c":1,"x":80,"y":2.25},{"c":1,"x":87,"y":3.05},{"c":1,"x":88,"y":2.8},{"c":1,"x":85,"y":2.6},{"c":1,"x":94,"y":1.5},{"c":1,"x":97,"y":1.0},{"c":1,"x":99,"y":1.3},{"c":1,"x":102,"y":1.7},{"c":1,"x":104,"y":0.7},
{"c":2,"x":109,"y":2.7},{"c":2,"x":109,"y":2.5},{"c":2,"x":110,"y":2.2},{"c":2,"x":111,"y":2.0},{"c":2,"x":122,"y":1.7},{"c":2,"x":135,"y":3.1},{"c":2,"x":135,"y":2.85},{"c":2,"x":136,"y":2.5},{"c":2,"x":135,"y":2.2},{"c":2,"x":134,"y":1.9},{"c":2,"x":136,"y":1.6},{"c":2,"x":150,"y":0.8},{"c":2,"x":158,"y":1.1},{"c":2,"x":160,"y":3.12},{"c":2,"x":162,"y":3.05},
{"c":3,"x":165,"y":2.15},{"c":3,"x":167,"y":2.5},{"c":3,"x":172,"y":2.3},{"c":3,"x":179,"y":2.73},{"c":3,"x":183,"y":2.75},{"c":3,"x":185,"y":2.6},{"c":3,"x":195,"y":1.9},{"c":3,"x":198,"y":1.6},{"c":3,"x":200,"y":2.1},{"c":3,"x":203,"y":1.5},{"c":3,"x":206,"y":1.9},{"c":3,"x":208,"y":1.3},{"c":3,"x":210,"y":2.2},{"c":3,"x":212,"y":1.1},
{"c":4,"x":230,"y":3.14},{"c":4,"x":232,"y":3.05},{"c":4,"x":231,"y":2.35},{"c":4,"x":240,"y":2.1},{"c":4,"x":257,"y":2.67},{"c":4,"x":262,"y":2.2},{"c":4,"x":265,"y":2.4},
{"c":5,"x":275,"y":1.7},{"c":5,"x":280,"y":1.9},{"c":5,"x":284,"y":1.95},{"c":5,"x":292,"y":2.16},{"c":5,"x":301,"y":1.6},{"c":5,"x":302,"y":1.3},
{"c":6,"x":318,"y":8.85},{"c":6,"x":322,"y":14.73},{"c":6,"x":322,"y":4.65},{"c":6,"x":321,"y":4.11},{"c":6,"x":322,"y":3.75},{"c":6,"x":320,"y":3.3},{"c":6,"x":321,"y":3.1},{"c":6,"x":319,"y":2.95},{"c":6,"x":316,"y":2.6},{"c":6,"x":311,"y":2.7},{"c":6,"x":337,"y":2.73},{"c":6,"x":333,"y":2.1},{"c":6,"x":341,"y":1.9},{"c":6,"x":345,"y":2.0},{"c":6,"x":350,"y":1.6},{"c":6,"x":355,"y":1.8},{"c":6,"x":359,"y":3.4},{"c":6,"x":360,"y":3.1},{"c":6,"x":359,"y":2.6},{"c":6,"x":362,"y":2.3},{"c":6,"x":365,"y":1.9},
{"c":7,"x":370,"y":2.4},{"c":7,"x":378,"y":3.2},{"c":7,"x":381,"y":2.9},{"c":7,"x":384,"y":3.1},{"c":7,"x":387,"y":3.05},{"c":7,"x":390,"y":3.25},{"c":7,"x":392,"y":2.9},{"c":7,"x":395,"y":3.2},{"c":7,"x":398,"y":3.15},{"c":7,"x":400,"y":2.95},{"c":7,"x":403,"y":3.1},{"c":7,"x":404,"y":3.77},{"c":7,"x":406,"y":2.8},{"c":7,"x":409,"y":6.4},{"c":7,"x":412,"y":3.99},{"c":7,"x":410,"y":3.0},{"c":7,"x":414,"y":2.7},
{"c":8,"x":419,"y":3.1},{"c":8,"x":422,"y":3.05},{"c":8,"x":425,"y":2.9},{"c":8,"x":426,"y":2.4},{"c":8,"x":430,"y":1.8},{"c":8,"x":435,"y":1.5},{"c":8,"x":441,"y":1.3},{"c":8,"x":447,"y":1.2},{"c":8,"x":452,"y":1.1},{"c":8,"x":458,"y":0.9},{"c":8,"x":463,"y":2.75},{"c":8,"x":467,"y":1.0},
{"c":9,"x":494,"y":3.82},{"c":9,"x":491,"y":3.67},{"c":9,"x":490,"y":3.5},{"c":9,"x":493,"y":3.3},{"c":9,"x":489,"y":3.1},{"c":9,"x":488,"y":2.9},{"c":9,"x":492,"y":2.75},{"c":9,"x":497,"y":2.5},{"c":9,"x":500,"y":2.2},{"c":9,"x":507,"y":1.4},{"c":9,"x":509,"y":1.6},{"c":9,"x":513,"y":1.0},{"c":9,"x":517,"y":1.2},{"c":9,"x":521,"y":1.1},{"c":9,"x":526,"y":1.3},
{"c":10,"x":536,"y":2.1},{"c":10,"x":542,"y":3.4},{"c":10,"x":542,"y":2.73},{"c":10,"x":541,"y":2.3},{"c":10,"x":547,"y":1.5},{"c":10,"x":551,"y":1.2},{"c":10,"x":554,"y":3.1},
{"c":11,"x":562,"y":2.73},{"c":11,"x":566,"y":1.7},{"c":11,"x":570,"y":2.3},{"c":11,"x":573,"y":2.4},{"c":11,"x":575,"y":2.6},{"c":11,"x":577,"y":2.2},{"c":11,"x":576,"y":3.95},{"c":11,"x":580,"y":2.0},{"c":11,"x":583,"y":1.9},
{"c":12,"x":597,"y":15.85},{"c":12,"x":597,"y":15.1},{"c":12,"x":597,"y":14.95},{"c":12,"x":597,"y":14.3},{"c":12,"x":597,"y":12.05},{"c":12,"x":597,"y":10.1},{"c":12,"x":597,"y":9.5},{"c":12,"x":597,"y":8.7},{"c":12,"x":597,"y":8.5},{"c":12,"x":609,"y":14.0},{"c":12,"x":610,"y":13.75},{"c":12,"x":609,"y":8.85},{"c":12,"x":597,"y":7.1},{"c":12,"x":597,"y":6.95},{"c":12,"x":597,"y":5.95},{"c":12,"x":597,"y":5.6},{"c":12,"x":597,"y":5.45},{"c":12,"x":597,"y":5.3},{"c":12,"x":597,"y":5.15},{"c":12,"x":597,"y":4.95},{"c":12,"x":598,"y":4.8},{"c":12,"x":610,"y":5.45},{"c":12,"x":605,"y":3.8},{"c":12,"x":608,"y":3.7},{"c":12,"x":607,"y":3.4},{"c":12,"x":603,"y":2.9},{"c":12,"x":606,"y":2.6},{"c":12,"x":604,"y":2.2},{"c":12,"x":609,"y":2.0},{"c":12,"x":611,"y":1.6},{"c":12,"x":601,"y":3.0},{"c":12,"x":600,"y":3.5},
{"c":13,"x":619,"y":8.7},{"c":13,"x":619,"y":8.33},{"c":13,"x":619,"y":7.6},{"c":13,"x":619,"y":7.0},{"c":13,"x":619,"y":6.82},{"c":13,"x":619,"y":6.67},{"c":13,"x":619,"y":5.06},{"c":13,"x":619,"y":4.55},{"c":13,"x":618,"y":4.18},{"c":13,"x":619,"y":4.0},{"c":13,"x":618,"y":3.8},{"c":13,"x":620,"y":3.6},{"c":13,"x":617,"y":3.5},{"c":13,"x":621,"y":3.3},{"c":13,"x":619,"y":3.2},{"c":13,"x":620,"y":3.05},{"c":13,"x":627,"y":3.0},{"c":13,"x":630,"y":3.4},{"c":13,"x":629,"y":2.7},{"c":13,"x":645,"y":2.8},{"c":13,"x":648,"y":3.0},{"c":13,"x":650,"y":2.75},{"c":13,"x":652,"y":2.6},{"c":13,"x":668,"y":2.5},{"c":13,"x":670,"y":2.3},{"c":13,"x":675,"y":2.1},{"c":13,"x":680,"y":1.9},{"c":13,"x":684,"y":1.6},{"c":13,"x":687,"y":1.4},{"c":13,"x":687,"y":3.77},
{"c":14,"x":700,"y":3.1},{"c":14,"x":699,"y":2.95},{"c":14,"x":702,"y":2.73},{"c":14,"x":704,"y":2.3},{"c":14,"x":706,"y":2.0},{"c":14,"x":710,"y":1.6},{"c":14,"x":714,"y":1.8},{"c":14,"x":718,"y":1.7},{"c":14,"x":722,"y":1.4},{"c":14,"x":728,"y":1.6},{"c":14,"x":732,"y":1.3},{"c":14,"x":737,"y":1.5},{"c":14,"x":741,"y":1.7},
{"c":15,"x":747,"y":2.75},{"c":15,"x":749,"y":2.4},{"c":15,"x":756,"y":2.5},{"c":15,"x":763,"y":2.1},{"c":15,"x":766,"y":2.2},{"c":15,"x":772,"y":2.5},{"c":15,"x":777,"y":4.0},{"c":15,"x":777,"y":3.9},{"c":15,"x":777,"y":3.05},{"c":15,"x":777,"y":2.85},{"c":15,"x":778,"y":2.6},{"c":15,"x":776,"y":2.3},{"c":15,"x":781,"y":2.0},{"c":15,"x":787,"y":1.3},{"c":15,"x":791,"y":1.2},{"c":15,"x":793,"y":1.1},{"c":15,"x":798,"y":1.0},
{"c":16,"x":809,"y":2.6},{"c":16,"x":817,"y":2.6},{"c":16,"x":815,"y":2.3},{"c":16,"x":820,"y":2.0},{"c":16,"x":825,"y":1.7},{"c":16,"x":829,"y":1.4},
{"c":17,"x":841,"y":5.06},{"c":17,"x":841,"y":4.58},{"c":17,"x":840,"y":2.5},{"c":17,"x":842,"y":2.3},{"c":17,"x":846,"y":2.2},{"c":17,"x":850,"y":2.0},{"c":17,"x":852,"y":5.66},{"c":17,"x":855,"y":1.9},
{"c":18,"x":866,"y":2.6},{"c":18,"x":869,"y":3.07},{"c":18,"x":870,"y":2.95},{"c":18,"x":868,"y":2.8},{"c":18,"x":873,"y":2.2},{"c":18,"x":876,"y":1.8},{"c":18,"x":880,"y":1.4}
]
},
"vconcat": [
{
"width": 884, "height": 528,
"layer": [
{"data": {"values": [{}]}, "mark": {"type": "rect", "filled": false, "color": "black", "strokeWidth": 2},
 "encoding": {"x": {"datum": -140, "type": "quantitative", "scale": {"domain": [-10, 874], "nice": false, "zero": false},
   "axis": {"values": [0,107,162,215,268,305,366,415,470,528,556,586,612,690,745,805,835,859], "labelExpr": "indexof([0,107,162,215,268,305,366,415,470,528,556,586,612,690,745,805,835,859], datum.value) + 1", "labelAngle": -45, "labelAlign": "center", "labelBaseline": "middle", "labelPadding": 60, "labelOffset": 7, "labelFontSize": 13, "labelColor": "#222", "labelOverlap": false, "labelFlush": false, "domain": false, "ticks": false, "grid": false, "title": "Chromosome", "titleX": 450, "titleFontSize": 17, "titleFontWeight": "normal", "titleColor": "#222", "titlePadding": 2}},
  "x2": {"datum": 982},
  "y": {"datum": 23.18, "type": "quantitative", "scale": {"domain": [0, 20], "nice": false},
   "axis": {"offset": -10, "values": [0,1,2,3,4,5,6,7,8,9,10,11,12,13,14,15,16,17,18,19,20], "labelOverlap": false, "domainColor": "black", "domainWidth": 1.5, "tickColor": "black", "tickSize": 8, "tickWidth": 1.5, "labelFontSize": 13, "labelPadding": 8, "labelColor": "#222", "grid": false, "title": "-log10(Observed value)", "titleFontSize": 15, "titleFontWeight": "normal", "titleColor": "#222", "titlePadding": 53}},
  "y2": {"datum": -4.77}}},
{"data": {"name": "topBulk"}, "mark": {"type": "area", "interpolate": "linear"},
 "encoding": {"x": {"field": "x", "type": "quantitative", "scale": {"domain": [-10, 874], "nice": false, "zero": false},
   "axis": {"values": [0,107,162,215,268,305,366,415,470,528,556,586,612,690,745,805,835,859], "labelExpr": "indexof([0,107,162,215,268,305,366,415,470,528,556,586,612,690,745,805,835,859], datum.value) + 1", "labelAngle": -45, "labelAlign": "center", "labelBaseline": "middle", "labelPadding": 60, "labelOffset": 7, "labelFontSize": 13, "labelColor": "#222", "labelOverlap": false, "labelFlush": false, "domain": false, "ticks": false, "grid": false, "title": "Chromosome", "titleX": 450, "titleFontSize": 17, "titleFontWeight": "normal", "titleColor": "#222", "titlePadding": 2}},
  "y": {"field": "y", "type": "quantitative", "stack": null, "scale": {"domain": [0, 20], "nice": false},
   "axis": {"offset": -10, "values": [0,1,2,3,4,5,6,7,8,9,10,11,12,13,14,15,16,17,18,19,20], "labelOverlap": false, "domainColor": "black", "domainWidth": 1.5, "tickColor": "black", "tickSize": 8, "tickWidth": 1.5, "labelFontSize": 13, "labelPadding": 8, "labelColor": "#222", "grid": false, "title": "-log10(Observed value)", "titleFontSize": 15, "titleFontWeight": "normal", "titleColor": "#222", "titlePadding": 53}},
  "color": {"field": "c", "type": "nominal", "scale": {"domain": [1,2,3,4,5,6,7,8,9,10,11,12,13,14,15,16,17,18], "range": ["#11EE11","#2FE7F2","#11EE11","#2FE7F2","#11EE11","#2FE7F2","#11EE11","#2FE7F2","#11EE11","#2FE7F2","#11EE11","#2FE7F2","#11EE11","#2FE7F2","#11EE11","#2FE7F2","#11EE11","#2FE7F2"]}, "legend": null}}},
{"data": {"name": "topPts"}, "mark": {"type": "point", "filled": true, "size": 14, "opacity": 1},
 "encoding": {"x": {"field": "x", "type": "quantitative", "scale": {"domain": [-10, 874], "nice": false, "zero": false},
   "axis": {"values": [0,107,162,215,268,305,366,415,470,528,556,586,612,690,745,805,835,859], "labelExpr": "indexof([0,107,162,215,268,305,366,415,470,528,556,586,612,690,745,805,835,859], datum.value) + 1", "labelAngle": -45, "labelAlign": "center", "labelBaseline": "middle", "labelPadding": 60, "labelOffset": 7, "labelFontSize": 13, "labelColor": "#222", "labelOverlap": false, "labelFlush": false, "domain": false, "ticks": false, "grid": false, "title": "Chromosome", "titleX": 450, "titleFontSize": 17, "titleFontWeight": "normal", "titleColor": "#222", "titlePadding": 2}},
  "y": {"field": "y", "type": "quantitative", "scale": {"domain": [0, 20], "nice": false},
   "axis": {"offset": -10, "values": [0,1,2,3,4,5,6,7,8,9,10,11,12,13,14,15,16,17,18,19,20], "labelOverlap": false, "domainColor": "black", "domainWidth": 1.5, "tickColor": "black", "tickSize": 8, "tickWidth": 1.5, "labelFontSize": 13, "labelPadding": 8, "labelColor": "#222", "grid": false, "title": "-log10(Observed value)", "titleFontSize": 15, "titleFontWeight": "normal", "titleColor": "#222", "titlePadding": 53}},
  "color": {"field": "c", "type": "nominal", "legend": null}}},
{"data": {"values": [{"t": 3}, {"t": 6}, {"t": 8}]}, "mark": {"type": "rule", "color": "#555", "strokeWidth": 2},
 "encoding": {"y": {"field": "t", "type": "quantitative", "scale": {"domain": [0, 20], "nice": false},
   "axis": {"offset": -10, "values": [0,1,2,3,4,5,6,7,8,9,10,11,12,13,14,15,16,17,18,19,20], "labelOverlap": false, "domainColor": "black", "domainWidth": 1.5, "tickColor": "black", "tickSize": 8, "tickWidth": 1.5, "labelFontSize": 13, "labelPadding": 8, "labelColor": "#222", "grid": false, "title": "-log10(Observed value)", "titleFontSize": 15, "titleFontWeight": "normal", "titleColor": "#222", "titlePadding": 53}},
  "x": {"datum": -106, "type": "quantitative", "scale": {"domain": [-10, 874], "nice": false, "zero": false},
   "axis": {"values": [0,107,162,215,268,305,366,415,470,528,556,586,612,690,745,805,835,859], "labelExpr": "indexof([0,107,162,215,268,305,366,415,470,528,556,586,612,690,745,805,835,859], datum.value) + 1", "labelAngle": -45, "labelAlign": "center", "labelBaseline": "middle", "labelPadding": 60, "labelOffset": 7, "labelFontSize": 13, "labelColor": "#222", "labelOverlap": false, "labelFlush": false, "domain": false, "ticks": false, "grid": false, "title": "Chromosome", "titleX": 450, "titleFontSize": 17, "titleFontWeight": "normal", "titleColor": "#222", "titlePadding": 2}},
  "x2": {"datum": 952}}},
{"data": {"values": [{}]}, "mark": {"type": "point", "shape": "M0,-1A0.2254,1,0,1,1,0,1A0.2254,1,0,1,1,0,-1Z", "size": 119716, "filled": false, "stroke": "black", "strokeWidth": 2, "opacity": 1},
 "encoding": {"x": {"datum": 599, "type": "quantitative", "scale": {"domain": [-10, 874], "nice": false, "zero": false},
   "axis": {"values": [0,107,162,215,268,305,366,415,470,528,556,586,612,690,745,805,835,859], "labelExpr": "indexof([0,107,162,215,268,305,366,415,470,528,556,586,612,690,745,805,835,859], datum.value) + 1", "labelAngle": -45, "labelAlign": "center", "labelBaseline": "middle", "labelPadding": 60, "labelOffset": 7, "labelFontSize": 13, "labelColor": "#222", "labelOverlap": false, "labelFlush": false, "domain": false, "ticks": false, "grid": false, "title": "Chromosome", "titleX": 450, "titleFontSize": 17, "titleFontWeight": "normal", "titleColor": "#222", "titlePadding": 2}},
  "y": {"datum": 14.77, "type": "quantitative", "scale": {"domain": [0, 20], "nice": false},
   "axis": {"offset": -10, "values": [0,1,2,3,4,5,6,7,8,9,10,11,12,13,14,15,16,17,18,19,20], "labelOverlap": false, "domainColor": "black", "domainWidth": 1.5, "tickColor": "black", "tickSize": 8, "tickWidth": 1.5, "labelFontSize": 13, "labelPadding": 8, "labelColor": "#222", "grid": false, "title": "-log10(Observed value)", "titleFontSize": 15, "titleFontWeight": "normal", "titleColor": "#222", "titlePadding": 53}}}},
{"data": {"values": [{}]}, "mark": {"type": "text", "text": "Crude protein", "font": "DejaVu Sans", "fontSize": 26, "color": "black", "align": "center", "baseline": "middle"},
 "encoding": {"x": {"datum": 423, "type": "quantitative", "scale": {"domain": [-10, 874], "nice": false, "zero": false},
   "axis": {"values": [0,107,162,215,268,305,366,415,470,528,556,586,612,690,745,805,835,859], "labelExpr": "indexof([0,107,162,215,268,305,366,415,470,528,556,586,612,690,745,805,835,859], datum.value) + 1", "labelAngle": -45, "labelAlign": "center", "labelBaseline": "middle", "labelPadding": 60, "labelOffset": 7, "labelFontSize": 13, "labelColor": "#222", "labelOverlap": false, "labelFlush": false, "domain": false, "ticks": false, "grid": false, "title": "Chromosome", "titleX": 450, "titleFontSize": 17, "titleFontWeight": "normal", "titleColor": "#222", "titlePadding": 2}},
  "y": {"datum": 21.4, "type": "quantitative", "scale": {"domain": [0, 20], "nice": false},
   "axis": {"offset": -10, "values": [0,1,2,3,4,5,6,7,8,9,10,11,12,13,14,15,16,17,18,19,20], "labelOverlap": false, "domainColor": "black", "domainWidth": 1.5, "tickColor": "black", "tickSize": 8, "tickWidth": 1.5, "labelFontSize": 13, "labelPadding": 8, "labelColor": "#222", "grid": false, "title": "-log10(Observed value)", "titleFontSize": 15, "titleFontWeight": "normal", "titleColor": "#222", "titlePadding": 53}}}}
]
},
{
"width": 884, "height": 531,
"layer": [
{"data": {"values": [{}]}, "mark": {"type": "rect", "filled": false, "color": "black", "strokeWidth": 2},
 "encoding": {"x": {"datum": -130, "type": "quantitative", "scale": {"domain": [0, 884], "nice": false, "zero": false},
   "axis": {"values": [0,107,162,215,268,305,366,415,470,528,556,586,612,690,745,805,835,859], "labelExpr": "indexof([0,107,162,215,268,305,366,415,470,528,556,586,612,690,745,805,835,859], datum.value) + 1", "labelAngle": -45, "labelAlign": "center", "labelBaseline": "middle", "labelPadding": 62, "labelOffset": 7, "labelFontSize": 13, "labelColor": "#222", "labelOverlap": false, "labelFlush": false, "domain": false, "ticks": false, "grid": false, "title": "Chromosome", "titleFontSize": 17, "titleFontWeight": "normal", "titleColor": "#222", "titlePadding": 2}},
  "x2": {"datum": 992},
  "y": {"datum": 23.13, "type": "quantitative", "scale": {"domain": [0, 20], "nice": false},
   "axis": {"values": [0,1,2,3,4,5,6,7,8,9,10,11,12,13,14,15,16,17,18,19,20], "labelOverlap": false, "domainColor": "black", "domainWidth": 1.5, "tickColor": "black", "tickSize": 8, "tickWidth": 1.5, "labelFontSize": 13, "labelPadding": 8, "labelColor": "#222", "grid": false, "title": "-log10(Observed value)", "titleFontSize": 15, "titleFontWeight": "normal", "titleColor": "#222", "titlePadding": 53}},
  "y2": {"datum": -4.41}}},
{"data": {"name": "botBulk"}, "mark": {"type": "area", "interpolate": "linear"},
 "encoding": {"x": {"field": "x", "type": "quantitative", "scale": {"domain": [0, 884], "nice": false, "zero": false},
   "axis": {"values": [0,107,162,215,268,305,366,415,470,528,556,586,612,690,745,805,835,859], "labelExpr": "indexof([0,107,162,215,268,305,366,415,470,528,556,586,612,690,745,805,835,859], datum.value) + 1", "labelAngle": -45, "labelAlign": "center", "labelBaseline": "middle", "labelPadding": 62, "labelOffset": 7, "labelFontSize": 13, "labelColor": "#222", "labelOverlap": false, "labelFlush": false, "domain": false, "ticks": false, "grid": false, "title": "Chromosome", "titleFontSize": 17, "titleFontWeight": "normal", "titleColor": "#222", "titlePadding": 2}},
  "y": {"field": "y", "type": "quantitative", "stack": null, "scale": {"domain": [0, 20], "nice": false},
   "axis": {"values": [0,1,2,3,4,5,6,7,8,9,10,11,12,13,14,15,16,17,18,19,20], "labelOverlap": false, "domainColor": "black", "domainWidth": 1.5, "tickColor": "black", "tickSize": 8, "tickWidth": 1.5, "labelFontSize": 13, "labelPadding": 8, "labelColor": "#222", "grid": false, "title": "-log10(Observed value)", "titleFontSize": 15, "titleFontWeight": "normal", "titleColor": "#222", "titlePadding": 53}},
  "color": {"field": "c", "type": "nominal", "scale": {"domain": [1,2,3,4,5,6,7,8,9,10,11,12,13,14,15,16,17,18], "range": ["#11EE11","#2FE7F2","#11EE11","#2FE7F2","#11EE11","#2FE7F2","#11EE11","#2FE7F2","#11EE11","#2FE7F2","#11EE11","#2FE7F2","#11EE11","#2FE7F2","#11EE11","#2FE7F2","#11EE11","#2FE7F2"]}, "legend": null}}},
{"data": {"name": "botPts"}, "mark": {"type": "point", "filled": true, "size": 14, "opacity": 1},
 "encoding": {"x": {"field": "x", "type": "quantitative", "scale": {"domain": [0, 884], "nice": false, "zero": false},
   "axis": {"values": [0,107,162,215,268,305,366,415,470,528,556,586,612,690,745,805,835,859], "labelExpr": "indexof([0,107,162,215,268,305,366,415,470,528,556,586,612,690,745,805,835,859], datum.value) + 1", "labelAngle": -45, "labelAlign": "center", "labelBaseline": "middle", "labelPadding": 62, "labelOffset": 7, "labelFontSize": 13, "labelColor": "#222", "labelOverlap": false, "labelFlush": false, "domain": false, "ticks": false, "grid": false, "title": "Chromosome", "titleFontSize": 17, "titleFontWeight": "normal", "titleColor": "#222", "titlePadding": 2}},
  "y": {"field": "y", "type": "quantitative", "scale": {"domain": [0, 20], "nice": false},
   "axis": {"values": [0,1,2,3,4,5,6,7,8,9,10,11,12,13,14,15,16,17,18,19,20], "labelOverlap": false, "domainColor": "black", "domainWidth": 1.5, "tickColor": "black", "tickSize": 8, "tickWidth": 1.5, "labelFontSize": 13, "labelPadding": 8, "labelColor": "#222", "grid": false, "title": "-log10(Observed value)", "titleFontSize": 15, "titleFontWeight": "normal", "titleColor": "#222", "titlePadding": 53}},
  "color": {"field": "c", "type": "nominal", "legend": null}}},
{"data": {"values": [{"t": 3}, {"t": 6}, {"t": 8}]}, "mark": {"type": "rule", "color": "#555", "strokeWidth": 2},
 "encoding": {"y": {"field": "t", "type": "quantitative", "scale": {"domain": [0, 20], "nice": false},
   "axis": {"values": [0,1,2,3,4,5,6,7,8,9,10,11,12,13,14,15,16,17,18,19,20], "labelOverlap": false, "domainColor": "black", "domainWidth": 1.5, "tickColor": "black", "tickSize": 8, "tickWidth": 1.5, "labelFontSize": 13, "labelPadding": 8, "labelColor": "#222", "grid": false, "title": "-log10(Observed value)", "titleFontSize": 15, "titleFontWeight": "normal", "titleColor": "#222", "titlePadding": 53}},
  "x": {"datum": -106, "type": "quantitative", "scale": {"domain": [0, 884], "nice": false, "zero": false},
   "axis": {"values": [0,107,162,215,268,305,366,415,470,528,556,586,612,690,745,805,835,859], "labelExpr": "indexof([0,107,162,215,268,305,366,415,470,528,556,586,612,690,745,805,835,859], datum.value) + 1", "labelAngle": -45, "labelAlign": "center", "labelBaseline": "middle", "labelPadding": 62, "labelOffset": 7, "labelFontSize": 13, "labelColor": "#222", "labelOverlap": false, "labelFlush": false, "domain": false, "ticks": false, "grid": false, "title": "Chromosome", "titleFontSize": 17, "titleFontWeight": "normal", "titleColor": "#222", "titlePadding": 2}},
  "x2": {"datum": 952}}},
{"data": {"values": [{}]}, "mark": {"type": "point", "shape": "M0,-1A0.314,1,0,1,1,0,1A0.314,1,0,1,1,0,-1Z", "size": 58564, "filled": false, "stroke": "black", "strokeWidth": 2, "opacity": 1},
 "encoding": {"x": {"datum": 597, "type": "quantitative", "scale": {"domain": [0, 884], "nice": false, "zero": false},
   "axis": {"values": [0,107,162,215,268,305,366,415,470,528,556,586,612,690,745,805,835,859], "labelExpr": "indexof([0,107,162,215,268,305,366,415,470,528,556,586,612,690,745,805,835,859], datum.value) + 1", "labelAngle": -45, "labelAlign": "center", "labelBaseline": "middle", "labelPadding": 62, "labelOffset": 7, "labelFontSize": 13, "labelColor": "#222", "labelOverlap": false, "labelFlush": false, "domain": false, "ticks": false, "grid": false, "title": "Chromosome", "titleFontSize": 17, "titleFontWeight": "normal", "titleColor": "#222", "titlePadding": 2}},
  "y": {"datum": 12.69, "type": "quantitative", "scale": {"domain": [0, 20], "nice": false},
   "axis": {"values": [0,1,2,3,4,5,6,7,8,9,10,11,12,13,14,15,16,17,18,19,20], "labelOverlap": false, "domainColor": "black", "domainWidth": 1.5, "tickColor": "black", "tickSize": 8, "tickWidth": 1.5, "labelFontSize": 13, "labelPadding": 8, "labelColor": "#222", "grid": false, "title": "-log10(Observed value)", "titleFontSize": 15, "titleFontWeight": "normal", "titleColor": "#222", "titlePadding": 53}}}},
{"data": {"values": [{}]}, "mark": {"type": "text", "text": "Crude lipid", "font": "DejaVu Sans", "fontSize": 27, "color": "black", "align": "center", "baseline": "middle"},
 "encoding": {"x": {"datum": 434, "type": "quantitative", "scale": {"domain": [0, 884], "nice": false, "zero": false},
   "axis": {"values": [0,107,162,215,268,305,366,415,470,528,556,586,612,690,745,805,835,859], "labelExpr": "indexof([0,107,162,215,268,305,366,415,470,528,556,586,612,690,745,805,835,859], datum.value) + 1", "labelAngle": -45, "labelAlign": "center", "labelBaseline": "middle", "labelPadding": 62, "labelOffset": 7, "labelFontSize": 13, "labelColor": "#222", "labelOverlap": false, "labelFlush": false, "domain": false, "ticks": false, "grid": false, "title": "Chromosome", "titleFontSize": 17, "titleFontWeight": "normal", "titleColor": "#222", "titlePadding": 2}},
  "y": {"datum": 21.96, "type": "quantitative", "scale": {"domain": [0, 20], "nice": false},
   "axis": {"values": [0,1,2,3,4,5,6,7,8,9,10,11,12,13,14,15,16,17,18,19,20], "labelOverlap": false, "domainColor": "black", "domainWidth": 1.5, "tickColor": "black", "tickSize": 8, "tickWidth": 1.5, "labelFontSize": 13, "labelPadding": 8, "labelColor": "#222", "grid": false, "title": "-log10(Observed value)", "titleFontSize": 15, "titleFontWeight": "normal", "titleColor": "#222", "titlePadding": 53}}}}
]
}
]
}
